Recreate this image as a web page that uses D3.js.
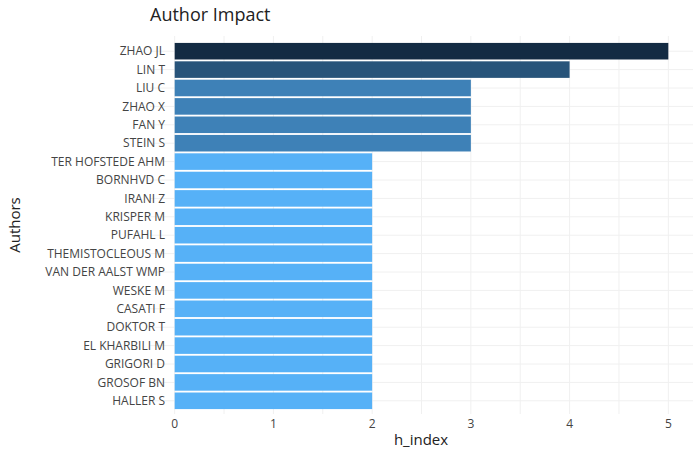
<!DOCTYPE html>
<html><head><meta charset="utf-8">
<script src="https://cdn.jsdelivr.net/npm/d3@7"></script>
<style>body{margin:0;background:#fff;font-family:"Open Sans",sans-serif;}</style>
</head><body><div id="chart"></div>
<script>
var authors = ["ZHAO JL","LIN T","LIU C","ZHAO X","FAN Y","STEIN S","TER HOFSTEDE AHM","BORNHVD C","IRANI Z","KRISPER M","PUFAHL L","THEMISTOCLEOUS M","VAN DER AALST WMP","WESKE M","CASATI F","DOKTOR T","EL KHARBILI M","GRIGORI D","GROSOF BN","HALLER S"];
var hIndex = [5,4,3,3,3,3,2,2,2,2,2,2,2,2,2,2,2,2,2,2];
var xTicks = [0,1,2,3,4,5];

var margin = {left: 175, right: 10, top: 42, bottom: 408};
var svg = d3.select("#chart").append("svg").attr("width", 700).attr("height", 450);

var x = d3.scaleLinear().domain([-0.25, 5.25]).range([150, 693]);
var y = d3.scaleBand().domain(authors).range([42, 410]).paddingInner(0.1).paddingOuter(0.05);
var color = d3.scaleLinear().domain([2, 5]).range(["#56B1F7", "#132B43"]).interpolate(d3.interpolateLab);

var grid = svg.append("g");
// minor + major vertical gridlines
d3.range(0, 5.01, 0.5).forEach(function(v) {
    grid.append("line").attr("x1", x(v)).attr("x2", x(v)).attr("y1", 36).attr("y2", 414)
        .attr("stroke", "#f0f0f0").attr("stroke-width", 1);
});
authors.forEach(function(a) {
    grid.append("line").attr("x1", 150).attr("x2", 693)
        .attr("y1", y(a) + y.bandwidth() / 2).attr("y2", y(a) + y.bandwidth() / 2)
        .attr("stroke", "#f0f0f0");
});

svg.append("g").selectAll("rect").data(authors).enter().append("rect")
    .attr("x", x(0))
    .attr("y", function(d) { return y(d); })
    .attr("width", function(d, i) { return x(hIndex[i]) - x(0); })
    .attr("height", y.bandwidth())
    .attr("fill", function(d, i) { return color(hIndex[i]); });

svg.append("g").selectAll("text").data(authors).enter().append("text")
    .attr("x", 165).attr("y", function(d) { return y(d) + y.bandwidth() / 2; })
    .attr("dy", "0.35em").attr("text-anchor", "end")
    .attr("font-size", 12).attr("fill", "#444").text(function(d) { return d; });

svg.append("g").selectAll("text").data(xTicks).enter().append("text")
    .attr("x", function(d) { return x(d); }).attr("y", 424)
    .attr("dy", "0.35em").attr("text-anchor", "middle")
    .attr("font-size", 12).attr("fill", "#444").text(function(d) { return d; });

svg.append("text").attr("x", 150).attr("y", 21).attr("font-size", 18).attr("fill", "#222").text("Author Impact");
svg.append("text").attr("x", 421).attr("y", 445).attr("text-anchor", "middle")
    .attr("font-size", 15).attr("fill", "#222").text("h_index");
svg.append("text").attr("transform", "translate(20,225) rotate(-90)").attr("text-anchor", "middle")
    .attr("font-size", 15).attr("fill", "#222").text("Authors");
</script></body></html>
